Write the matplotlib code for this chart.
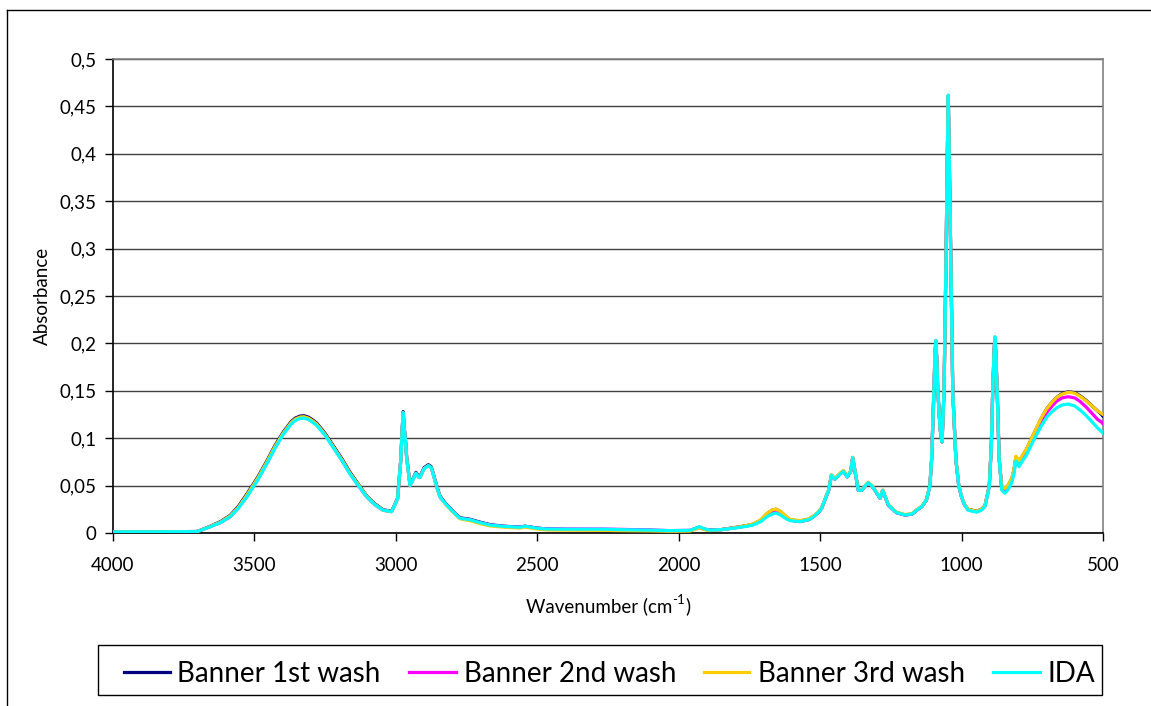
import matplotlib
matplotlib.use("Agg")
import matplotlib.pyplot as plt
from matplotlib.lines import Line2D
from matplotlib.patches import Rectangle

plt.rcParams['font.family'] = ['Lato', 'DejaVu Sans']

# ---------------- data ----------------
wavenumber = [
    4000, 3900, 3800, 3704, 3690, 3657, 3620, 3586, 3557, 3527, 3490,
    3457, 3428, 3398, 3370, 3355, 3339, 3325, 3310, 3295, 3280, 3250, 3221, 3190,
    3162, 3130, 3103, 3075, 3045, 3015, 2994, 2983, 2977, 2974,
    2971, 2966, 2962, 2950, 2940, 2929, 2920, 2915, 2900, 2885,
    2875, 2868, 2855, 2844, 2825, 2809, 2790, 2773, 2738, 2703,
    2667, 2620, 2561, 2544, 2500, 2467, 2400, 2268, 2200, 2100,
    2031, 1960, 1940, 1927, 1910, 1890, 1850, 1807, 1760, 1737,
    1710, 1689, 1670, 1656, 1640, 1620, 1607, 1571, 1540, 1524,
    1505, 1495, 1483, 1470, 1460, 1448, 1430, 1418, 1404, 1392,
    1385, 1375, 1365, 1353, 1340, 1330, 1318, 1306, 1288, 1279,
    1270, 1259, 1230, 1200, 1175, 1159, 1140, 1124, 1112, 1106,
    1098, 1094, 1091, 1088, 1084, 1076, 1069, 1062, 1055, 1050,
    1047, 1044, 1038, 1031, 1020, 1010, 1000, 990, 977, 947,
    930, 917, 902, 895, 890, 885, 882, 879, 874, 867,
    858, 847, 835, 823, 815, 808, 803, 797, 785, 771,
    755, 736, 718, 699, 680, 664, 645, 623, 600, 582,
    560, 535, 520, 505, 500,
]

banner_1st = [
    0.0012, 0.0012, 0.0013, 0.0016, 0.003, 0.0070, 0.012, 0.0185, 0.028, 0.041, 0.058,
    0.0755, 0.092, 0.1065, 0.1175, 0.1213, 0.1233, 0.1237, 0.1223, 0.1195, 0.116, 0.105, 0.092, 0.078,
    0.064, 0.0505, 0.039, 0.031, 0.0245, 0.023, 0.0365, 0.076, 0.113, 0.128,
    0.113, 0.098, 0.081, 0.051, 0.057, 0.064, 0.060, 0.0595, 0.069, 0.072,
    0.070, 0.063, 0.049, 0.039, 0.0315, 0.0265, 0.0205, 0.016, 0.0145, 0.0115,
    0.0088, 0.0072, 0.0062, 0.0072, 0.0052, 0.0043, 0.0038, 0.0035, 0.003, 0.0028,
    0.0022, 0.0025, 0.0045, 0.006, 0.004, 0.003, 0.0036, 0.0055, 0.0078, 0.0093,
    0.0135, 0.020, 0.024, 0.025, 0.0225, 0.017, 0.014, 0.0125, 0.0145, 0.0175,
    0.022, 0.026, 0.035, 0.045, 0.061, 0.057, 0.0625, 0.0655, 0.0595, 0.065,
    0.0795, 0.062, 0.045, 0.045, 0.050, 0.053, 0.050, 0.045, 0.0366, 0.045,
    0.038, 0.0295, 0.0215, 0.019, 0.020, 0.024, 0.028, 0.035, 0.050, 0.077,
    0.148, 0.188, 0.203, 0.185, 0.150, 0.110, 0.096, 0.150, 0.288, 0.405,
    0.461, 0.405, 0.288, 0.148, 0.077, 0.050, 0.038, 0.030, 0.025, 0.023,
    0.025, 0.029, 0.050, 0.091, 0.148, 0.192, 0.206, 0.190, 0.148, 0.078,
    0.048, 0.046, 0.050, 0.057, 0.066, 0.080, 0.078, 0.075, 0.081, 0.088,
    0.098, 0.110, 0.121, 0.131, 0.138, 0.143, 0.147, 0.149, 0.148, 0.145,
    0.140, 0.133, 0.129, 0.125, 0.123,
]

banner_2nd = [
    0.0012, 0.0012, 0.0013, 0.0015, 0.0028, 0.0066, 0.011, 0.017, 0.0265, 0.0385, 0.0555,
    0.073, 0.0895, 0.1045, 0.1155, 0.1193, 0.1213, 0.1217, 0.1203, 0.1175, 0.1145, 0.1035, 0.0905, 0.0765,
    0.0625, 0.049, 0.038, 0.030, 0.024, 0.0225, 0.036, 0.075, 0.112, 0.127,
    0.112, 0.097, 0.080, 0.050, 0.056, 0.063, 0.059, 0.0585, 0.068, 0.071,
    0.069, 0.062, 0.048, 0.038, 0.031, 0.026, 0.020, 0.0155, 0.014, 0.011,
    0.0084, 0.007, 0.006, 0.007, 0.005, 0.0043, 0.0042, 0.0042, 0.0038, 0.0032,
    0.0025, 0.0028, 0.0048, 0.0062, 0.0042, 0.003, 0.0035, 0.0052, 0.0074, 0.0088,
    0.013, 0.0185, 0.0225, 0.0235, 0.021, 0.016, 0.0135, 0.012, 0.014, 0.017,
    0.022, 0.026, 0.035, 0.045, 0.061, 0.0566, 0.062, 0.065, 0.059, 0.065,
    0.0795, 0.062, 0.045, 0.045, 0.050, 0.053, 0.050, 0.045, 0.0366, 0.045,
    0.038, 0.0295, 0.0215, 0.019, 0.020, 0.024, 0.028, 0.035, 0.050, 0.077,
    0.148, 0.188, 0.203, 0.185, 0.150, 0.110, 0.096, 0.150, 0.288, 0.405,
    0.461, 0.405, 0.288, 0.148, 0.077, 0.050, 0.038, 0.030, 0.0245, 0.0225,
    0.0245, 0.0285, 0.0495, 0.0905, 0.148, 0.192, 0.2065, 0.190, 0.148, 0.0775,
    0.047, 0.044, 0.048, 0.055, 0.064, 0.078, 0.076, 0.072, 0.078, 0.085,
    0.095, 0.107, 0.117, 0.127, 0.134, 0.139, 0.1425, 0.1438, 0.1425, 0.139,
    0.133, 0.125, 0.120, 0.117, 0.115,
]

banner_3rd = [
    0.0012, 0.0012, 0.0013, 0.0015, 0.0029, 0.0068, 0.0115, 0.018, 0.027, 0.040, 0.057,
    0.0745, 0.091, 0.1055, 0.1165, 0.1203, 0.1223, 0.1227, 0.1213, 0.1185, 0.115, 0.104, 0.091, 0.077,
    0.063, 0.050, 0.0385, 0.0305, 0.024, 0.0225, 0.036, 0.075, 0.112, 0.127,
    0.112, 0.097, 0.080, 0.050, 0.056, 0.063, 0.059, 0.0585, 0.068, 0.071,
    0.069, 0.062, 0.048, 0.038, 0.0305, 0.0255, 0.0195, 0.015, 0.013, 0.010,
    0.0075, 0.0062, 0.0052, 0.0062, 0.0042, 0.0032, 0.003, 0.0028, 0.0025, 0.0022,
    0.0018, 0.002, 0.004, 0.0055, 0.0035, 0.0026, 0.0034, 0.0054, 0.008, 0.0095,
    0.014, 0.0205, 0.0243, 0.0252, 0.0228, 0.0175, 0.0145, 0.013, 0.015, 0.018,
    0.0225, 0.0265, 0.0355, 0.0455, 0.0615, 0.0575, 0.063, 0.066, 0.060, 0.0655,
    0.080, 0.0625, 0.0455, 0.0455, 0.0505, 0.0535, 0.0505, 0.0455, 0.037, 0.0455,
    0.0385, 0.030, 0.022, 0.0195, 0.0205, 0.0245, 0.0285, 0.0355, 0.0505, 0.0775,
    0.148, 0.188, 0.203, 0.185, 0.150, 0.110, 0.096, 0.150, 0.288, 0.405,
    0.461, 0.405, 0.288, 0.148, 0.0775, 0.0505, 0.0385, 0.0305, 0.025, 0.023,
    0.025, 0.029, 0.050, 0.091, 0.148, 0.192, 0.206, 0.190, 0.148, 0.078,
    0.049, 0.047, 0.051, 0.058, 0.067, 0.081, 0.079, 0.076, 0.082, 0.0885,
    0.0985, 0.1105, 0.1215, 0.131, 0.138, 0.143, 0.1465, 0.1485, 0.1475, 0.1445,
    0.1395, 0.133, 0.129, 0.126, 0.125,
]

ida = [
    0.0012, 0.0012, 0.0013, 0.0015, 0.0028, 0.0065, 0.011, 0.017, 0.026, 0.038, 0.055,
    0.0725, 0.089, 0.104, 0.115, 0.1188, 0.1208, 0.1212, 0.1198, 0.117, 0.1135, 0.103, 0.090, 0.076,
    0.062, 0.049, 0.038, 0.030, 0.024, 0.0225, 0.036, 0.075, 0.112, 0.127,
    0.112, 0.097, 0.080, 0.050, 0.056, 0.063, 0.059, 0.0585, 0.068, 0.071,
    0.069, 0.062, 0.048, 0.038, 0.031, 0.026, 0.020, 0.0155, 0.014, 0.011,
    0.0084, 0.007, 0.006, 0.0072, 0.005, 0.0042, 0.004, 0.004, 0.0035, 0.003,
    0.0025, 0.0028, 0.005, 0.0067, 0.0045, 0.003, 0.0035, 0.005, 0.007, 0.0084,
    0.012, 0.017, 0.020, 0.021, 0.019, 0.015, 0.013, 0.012, 0.014, 0.017,
    0.022, 0.026, 0.035, 0.045, 0.061, 0.0566, 0.062, 0.065, 0.059, 0.065,
    0.0795, 0.062, 0.045, 0.045, 0.050, 0.053, 0.050, 0.045, 0.0366, 0.045,
    0.038, 0.0295, 0.0215, 0.019, 0.020, 0.024, 0.028, 0.035, 0.050, 0.077,
    0.148, 0.188, 0.203, 0.185, 0.150, 0.110, 0.096, 0.150, 0.288, 0.405,
    0.462, 0.405, 0.288, 0.148, 0.077, 0.050, 0.038, 0.030, 0.024, 0.022,
    0.024, 0.028, 0.049, 0.090, 0.148, 0.192, 0.207, 0.190, 0.148, 0.077,
    0.045, 0.042, 0.046, 0.053, 0.062, 0.076, 0.074, 0.070, 0.076, 0.082,
    0.092, 0.103, 0.113, 0.122, 0.128, 0.132, 0.135, 0.136, 0.134, 0.130,
    0.124, 0.116, 0.111, 0.107, 0.105,
]

series_names = ["Banner 1st wash", "Banner 2nd wash", "Banner 3rd wash", "IDA"]
series_values = [banner_1st, banner_2nd, banner_3rd, ida]
series_colors = ["#000080", "#FF00FF", "#FFCC00", "#00FFFF"]

x_ticks = [4000, 3500, 3000, 2500, 2000, 1500, 1000, 500]
y_ticks = [0, 0.05, 0.1, 0.15, 0.2, 0.25, 0.3, 0.35, 0.4, 0.45, 0.5]
y_tick_labels = ["0", "0,05", "0,1", "0,15", "0,2", "0,25", "0,3", "0,35", "0,4", "0,45", "0,5"]

# ---------------- figure ----------------
W, H = 1151, 706
fig = plt.figure(figsize=(W / 100, H / 100), dpi=100)
fig.patch.set_facecolor("white")

def fx(px):
    return px / W

def fy(py):
    return 1 - py / H

# outer chart frame (top and left edges visible)
fig.add_artist(Line2D([fx(7), 1.0], [fy(10), fy(10)], color="black", lw=1.0))
fig.add_artist(Line2D([fx(7), fx(7)], [0.0, fy(10)], color="black", lw=1.0))

ax = fig.add_axes([fx(113), fy(533), fx(1103) - fx(113), fy(59) - fy(533)])
for name, vals, col in zip(series_names, series_values, series_colors):
    ax.plot(wavenumber, vals, color=col, lw=2.3, solid_joinstyle="round",
            solid_capstyle="round", label=name, zorder=3)

ax.set_xlim(4000, 500)
ax.set_ylim(0, 0.5)
ax.set_xticks(x_ticks)
ax.set_xticklabels([str(t) for t in x_ticks])
ax.set_yticks(y_ticks)
ax.set_yticklabels(y_tick_labels)
ax.grid(axis="y", color="#404040", lw=1.0, zorder=1)
ax.grid(axis="x", visible=False)
ax.set_axisbelow(True)
for side in ("left", "bottom"):
    ax.spines[side].set_color("black")
    ax.spines[side].set_linewidth(1.2)
for side in ("right", "top"):
    ax.spines[side].set_color("#808080")
    ax.spines[side].set_linewidth(1.2)
ax.tick_params(axis="both", direction="out", length=6, width=1, color="black",
               labelsize=13.5, labelcolor="black")
ax.tick_params(axis="x", pad=11)
ax.tick_params(axis="y", pad=6)

# x-axis title with a plain hyphen superscript
renderer = fig.canvas.get_renderer()
base_y = fy(612)
parts = [("Wavenumber (cm", 13.5, 0.0), ("-1", 9.5, 8.0), (")", 13.5, 0.0)]
texts = []
for s, size, rise in parts:
    t = fig.text(0, base_y + rise / H, s, ha="left", va="baseline", fontsize=size)
    texts.append(t)
widths = [t.get_window_extent(renderer=renderer).width for t in texts]
x_start = 608 - sum(widths) / 2
for t, w in zip(texts, widths):
    t.set_x(fx(x_start))
    x_start += w

fig.text(fx(42), fy(296), "Absorbance", ha="center", va="center", rotation=90, fontsize=13.5)

# legend box
fig.add_artist(Rectangle((fx(98), fy(695)), fx(1102) - fx(98), fy(645) - fy(695),
                         transform=fig.transFigure, fill=False, edgecolor="black", lw=1.0))
handle_x = [(124, 170), (409, 456), (704, 749), (993, 1040)]
text_x = [177, 464, 758, 1048]
ly = 671.5
for (x0, x1), tx, name, col in zip(handle_x, text_x, series_names, series_colors):
    fig.add_artist(Line2D([fx(x0), fx(x1)], [fy(ly), fy(ly)], color=col, lw=2.3))
    fig.text(fx(tx), fy(ly), name, ha="left", va="center_baseline", fontsize=20)

fig.savefig("out.png", dpi=100)
